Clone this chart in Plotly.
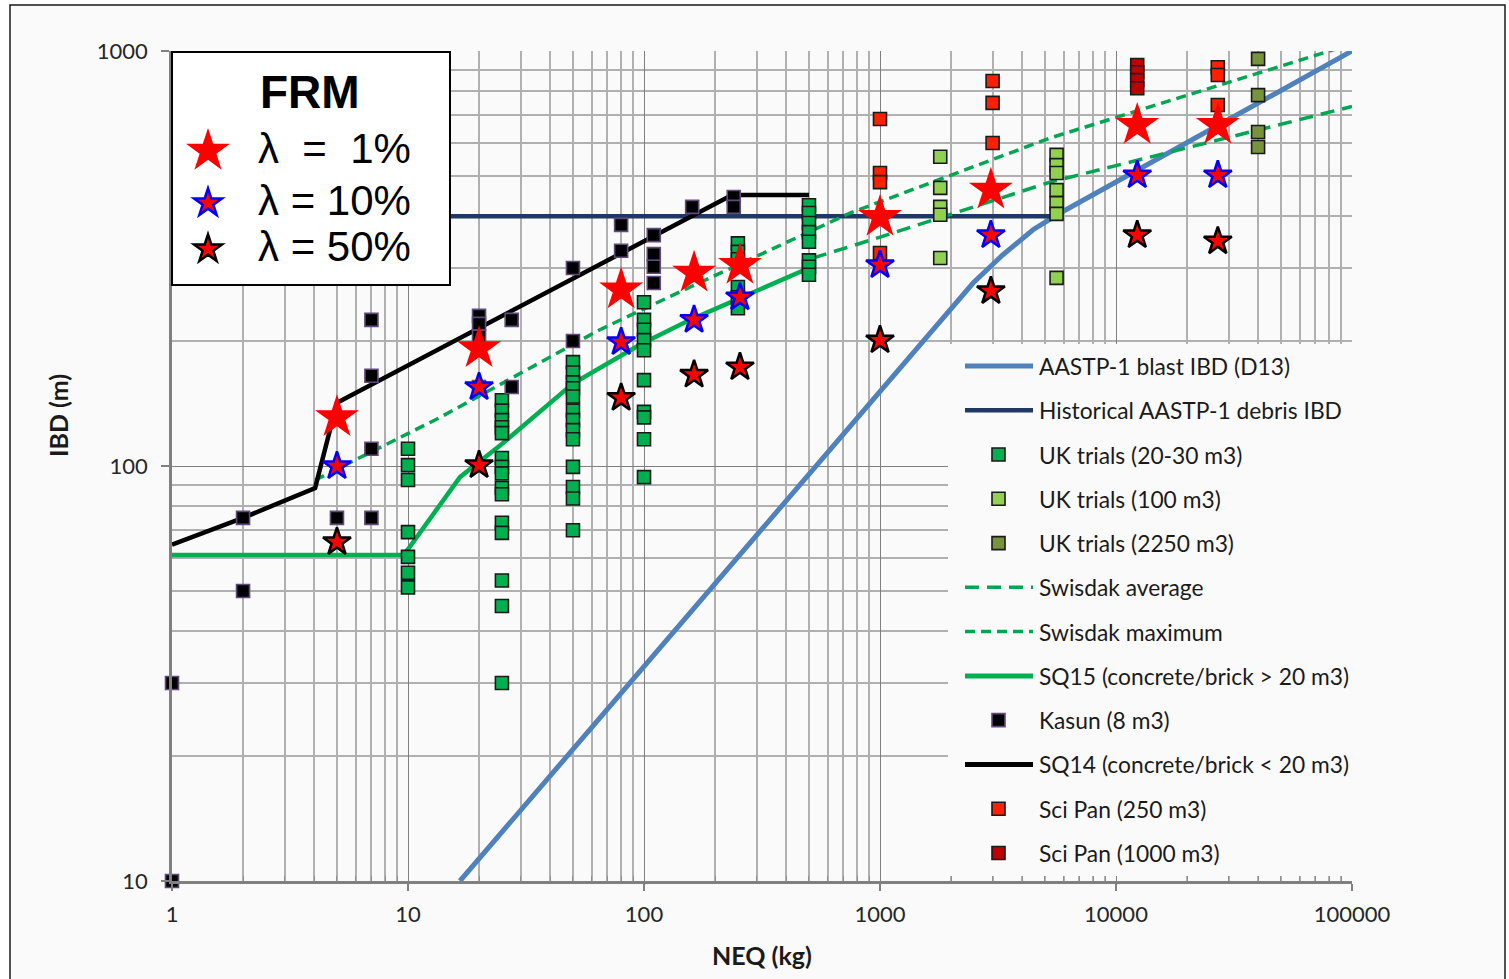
import plotly.graph_objects as go

# ---------------- data ----------------
neq_ticks = [1, 10, 100, 1000, 10000, 100000]
neq_tick_text = ["1", "10", "100", "1000", "10000", "100000"]
ibd_ticks = [10, 100, 1000]
ibd_tick_text = ["10", "100", "1000"]

aastp_blast_neq = [16.6, 2480, 3300, 4450, 5800, 100000]
aastp_blast_ibd = [10, 276, 322, 371, 407, 1000]

hist_debris_neq = [1, 5800]
hist_debris_ibd = [400, 400]

sq14_neq = [1, 2, 4.04, 5, 236, 500]
sq14_ibd = [64.6, 75, 88.5, 142, 450, 450]

sq15_neq = [1, 9.5, 10, 16.6, 18.8, 25, 50, 96, 157, 250, 500]
sq15_ibd = [61, 61, 63, 94, 99.5, 113, 158, 196, 225, 253, 300]

swisdak_max_neq = [4.04, 13.7, 65, 157, 746, 5250, 100000]
swisdak_max_ibd = [92.5, 131, 213, 270, 407, 617, 1040]

swisdak_avg_neq = [520, 1000, 5250, 100000]
swisdak_avg_ibd = [317, 356, 483, 735]

uk_small_neq = [10, 10, 10, 10, 10, 10, 10,
                25, 25, 25, 25, 25, 25, 25, 25, 25, 25, 25, 25, 25, 25, 25,
                50, 50, 50, 50, 50, 50, 50, 50, 50, 50, 50, 50, 50,
                100, 100, 100, 100, 100, 100, 100, 100, 100, 100,
                250, 250, 250, 250, 250, 250,
                500, 500, 500, 500, 500, 500, 500, 500]
uk_small_ibd = [110, 100.5, 92.5, 69.3, 60.4, 55.3, 51,
                144, 136, 129, 124, 120, 104.5, 99.5, 96, 88.5, 85.5, 73, 69, 53, 46, 30,
                178, 168, 159, 154, 147, 136, 129, 122, 116, 99.5, 89, 83.5, 70,
                248, 225, 213, 201, 190, 161, 135, 131, 116, 94,
                344, 328, 315, 270, 255, 240,
                425, 407, 385, 366, 347, 313, 302, 289]

uk_100_neq = [1800, 1800, 1800, 1800, 1800, 5600, 5600, 5600, 5600, 5600, 5600, 5600]
uk_100_ibd = [556, 468, 421, 403, 317, 562, 531, 508, 462, 430, 405, 284]

uk_2250_neq = [40000, 40000, 40000, 40000]
uk_2250_ibd = [957, 783, 638, 587]

kasun_neq = [1, 1, 2, 2, 5, 7, 7, 7, 7, 20, 20, 20, 20, 27.5, 27.5, 50, 50,
             80, 80, 110, 110, 110, 110, 160, 240, 240]
kasun_ibd = [30, 10, 75, 50, 75, 75, 110, 165, 225, 230, 220, 205, 155, 225, 155, 300, 200,
             381, 330, 360, 324, 302, 276, 421, 445, 421]

scipan_250_neq = [1000, 1000, 1000, 1000, 3000, 3000, 3000, 27000, 27000, 27000]
scipan_250_ibd = [686, 508, 483, 326, 847, 750, 600, 914, 875, 741]

scipan_1000_neq = [12300, 12300, 12300, 12300]
scipan_1000_ibd = [925, 889, 851, 813]

frm_neq = [5, 20, 80, 163, 255, 1000, 2950, 12300, 27000]
frm_ibd_1 = [131, 192, 266, 292, 305, 398, 463, 663, 663]
frm_ibd_10 = [100, 155, 199, 225, 255, 305, 360, 502, 502]
frm_ibd_50 = [65.6, 100.5, 146, 166, 173, 201, 264, 360, 348]

legend_labels = ["AASTP-1 blast IBD (D13)", "Historical AASTP-1 debris IBD",
                 "UK trials (20-30 m3)", "UK trials (100 m3)", "UK trials (2250 m3)",
                 "Swisdak average", "Swisdak maximum", "SQ15 (concrete/brick > 20 m3)",
                 "Kasun (8 m3)", "SQ14 (concrete/brick < 20 m3)",
                 "Sci Pan (250 m3)", "Sci Pan (1000 m3)"]
frm_labels = ["λ\u00a0\u00a0=\u00a0\u00a01%", "λ = 10%", "λ = 50%"]

# ---------------- styles ----------------
C_BLUE = "#4f81bd"
C_NAVY = "#1f3864"
C_GREEN = "#00b050"
C_DASH = "#00a651"
C_LGREEN = "#92d050"
C_OLIVE = "#77933c"
C_RED = "#ff2000"
C_DRED = "#c00000"
C_PURPLE = "#604a7b"
DASH_MAX = "10px,6px"
DASH_AVG = "14px,8px"
FONT = "Lato"

W, H = 1509, 979
ML, MR, MT, MB = 172, 157, 51, 98
PW, PH = W - ML - MR, H - MT - MB


def px(x):
    return (x - ML) / PW


def py(y):
    return (H - MB - y) / PH


fig = go.Figure()

line_specs = [
    (aastp_blast_neq, aastp_blast_ibd, dict(color=C_BLUE, width=5)),
    (hist_debris_neq, hist_debris_ibd, dict(color=C_NAVY, width=4.5)),
    (swisdak_max_neq, swisdak_max_ibd, dict(color=C_DASH, width=3.5, dash=DASH_MAX)),
    (swisdak_avg_neq, swisdak_avg_ibd, dict(color=C_DASH, width=3.5, dash=DASH_AVG)),
    (sq15_neq, sq15_ibd, dict(color=C_GREEN, width=4.5)),
    (sq14_neq, sq14_ibd, dict(color="black", width=4.5)),
]
for xs, ys, ln in line_specs:
    fig.add_trace(go.Scatter(x=xs, y=ys, mode="lines", line=ln, showlegend=False))

sq_specs = [
    (uk_small_neq, uk_small_ibd, C_GREEN, "#1a1a1a"),
    (uk_100_neq, uk_100_ibd, C_LGREEN, "#1a1a1a"),
    (uk_2250_neq, uk_2250_ibd, C_OLIVE, "#1a1a1a"),
    (kasun_neq, kasun_ibd, "black", C_PURPLE),
    (scipan_250_neq, scipan_250_ibd, C_RED, "#1a1a1a"),
    (scipan_1000_neq, scipan_1000_ibd, C_DRED, "#1a1a1a"),
]
for xs, ys, fc, lc in sq_specs:
    fig.add_trace(go.Scatter(x=xs, y=ys, mode="markers", cliponaxis=False,
                             marker=dict(symbol="square", size=13, color=fc,
                                         line=dict(color=lc, width=1.6)),
                             showlegend=False))

fig.add_trace(go.Scatter(x=frm_neq, y=frm_ibd_1, mode="markers", cliponaxis=False,
                         marker=dict(symbol="star", size=33, color="#ff0000", line=dict(width=0)),
                         showlegend=False))
fig.add_trace(go.Scatter(x=frm_neq, y=frm_ibd_10, mode="markers", cliponaxis=False,
                         marker=dict(symbol="star", size=21, color="#ff0000",
                                     line=dict(color="#0000ff", width=2.5)),
                         showlegend=False))
fig.add_trace(go.Scatter(x=frm_neq, y=frm_ibd_50, mode="markers", cliponaxis=False,
                         marker=dict(symbol="star", size=21, color="#ff0000",
                                     line=dict(color="black", width=2.5)),
                         showlegend=False))

# ---------------- decorations ----------------
shapes = []
annotations = []

# outer frame
shapes.append(dict(type="rect", xref="paper", yref="paper", layer="below",
                   x0=px(10), x1=px(1505), y0=py(1010), y1=py(5),
                   fillcolor="#fafafa", line=dict(color="#1a1a1a", width=1.5)))


def star_path(cx, cy, size):
    rs = size / 2 * 1.4
    pts = [(0.225, -0.309), (0.951, -0.309), (0.363, 0.118), (0.588, 0.809), (0, 0.382),
           (-0.588, 0.809), (-0.363, 0.118), (-0.951, -0.309), (-0.225, -0.309), (0, -1)]
    return "M " + " L ".join(f"{px(cx + rs * a):.5f},{py(cy + rs * b):.5f}" for a, b in pts) + " Z"


# FRM box
shapes.append(dict(type="rect", xref="paper", yref="paper", layer="above",
                   x0=px(172), x1=px(450), y0=py(285), y1=py(52),
                   fillcolor="white", line=dict(color="black", width=2)))
frm_glyphs = [(151, 33, "#ff0000", 0), (203, 21, "#0000ff", 2.5), (249, 21, "black", 2.5)]
for (cy, sz, lc, lw), lab in zip(frm_glyphs, frm_labels):
    shapes.append(dict(type="path", xref="paper", yref="paper", layer="above",
                       path=star_path(208, cy, sz), fillcolor="#ff0000",
                       line=dict(color=lc, width=lw)))
    annotations.append(dict(text=lab, x=px(256), y=py(cy - 3), xref="paper", yref="paper",
                            xanchor="left", yanchor="middle", showarrow=False,
                            font=dict(family="Liberation Sans", size=42, color="black")))
annotations.append(dict(text="<b>FRM</b>", x=px(310), y=py(92), xref="paper", yref="paper",
                        xanchor="center", yanchor="middle", showarrow=False,
                        font=dict(family="Liberation Sans", size=46, color="black")))

# main legend
shapes.append(dict(type="rect", xref="paper", yref="paper", layer="above",
                   x0=px(948), x1=px(1385), y0=py(876), y1=py(344),
                   fillcolor="#fafafa", line=dict(width=0)))
leg_kinds = [("line", dict(color=C_BLUE, width=5)),
             ("line", dict(color=C_NAVY, width=4.5)),
             ("sq", (C_GREEN, "#1a1a1a")),
             ("sq", (C_LGREEN, "#1a1a1a")),
             ("sq", (C_OLIVE, "#1a1a1a")),
             ("line", dict(color=C_DASH, width=3.5, dash=DASH_AVG)),
             ("line", dict(color=C_DASH, width=3.5, dash=DASH_MAX)),
             ("line", dict(color=C_GREEN, width=5)),
             ("sq", ("black", C_PURPLE)),
             ("line", dict(color="black", width=5)),
             ("sq", (C_RED, "#1a1a1a")),
             ("sq", (C_DRED, "#1a1a1a"))]
for i, ((kind, st), lab) in enumerate(zip(leg_kinds, legend_labels)):
    yc = 366 + i * 44.27
    if kind == "line":
        shapes.append(dict(type="line", xref="paper", yref="paper", layer="above",
                           x0=px(965), x1=px(1033), y0=py(yc), y1=py(yc), line=st))
    else:
        shapes.append(dict(type="rect", xref="paper", yref="paper", layer="above",
                           x0=px(992), x1=px(1005), y0=py(yc + 6.5), y1=py(yc - 6.5),
                           fillcolor=st[0], line=dict(color=st[1], width=1.6)))
    annotations.append(dict(text=lab, x=px(1037), y=py(yc), xref="paper", yref="paper",
                            xanchor="left", yanchor="middle", showarrow=False,
                            font=dict(family=FONT, size=22.8, color="#1a1a1a")))

# axis titles
annotations.append(dict(text="<b>IBD (m)</b>", x=px(58), y=py(416), xref="paper", yref="paper",
                        xanchor="center", yanchor="middle",
                        textangle=-90, showarrow=False,
                        font=dict(family=FONT, size=25, color="#1a1a1a")))
annotations.append(dict(text="<b>NEQ (kg)</b>", x=px(762), y=py(955), xref="paper", yref="paper",
                        xanchor="center", yanchor="middle",
                        showarrow=False, font=dict(family=FONT, size=25, color="#1a1a1a")))

x_minor = [m * 10 ** e for e in range(5) for m in range(2, 10)]
y_minor = [m * 10 ** e for e in range(1, 3) for m in range(2, 10)]

fig.update_layout(
    width=W, height=H,
    margin=dict(l=ML, r=MR, t=MT, b=MB, pad=0),
    paper_bgcolor="white", plot_bgcolor="#fafafa",
    font=dict(family=FONT, size=22, color="#262626"),
    shapes=shapes, annotations=annotations, showlegend=False,
    xaxis=dict(type="log", range=[0, 5], tickvals=neq_ticks, ticktext=neq_tick_text,
               ticks="outside", ticklen=7, tickwidth=1.5, tickcolor="#808080",
               ticklabelstandoff=5,
               showline=True, linecolor="#808080", linewidth=2.5,
               showgrid=True, gridcolor="#7f7f7f", gridwidth=1, zeroline=False,
               minor=dict(tickvals=x_minor, ticks="inside", ticklen=5, tickcolor="#909090",
                          tickwidth=1, showgrid=True, gridcolor="#b0b0b0", gridwidth=1.5),
               tickfont=dict(family=FONT, size=22, color="#262626")),
    yaxis=dict(type="log", range=[1, 3], tickvals=ibd_ticks, ticktext=ibd_tick_text,
               ticks="outside", ticklen=8, tickwidth=1.5, tickcolor="#808080",
               ticklabelstandoff=9,
               showline=True, linecolor="#808080", linewidth=2.5,
               showgrid=True, gridcolor="#7f7f7f", gridwidth=1, zeroline=False,
               minor=dict(tickvals=y_minor, ticks="", showgrid=True,
                          gridcolor="#b0b0b0", gridwidth=1.5),
               tickfont=dict(family=FONT, size=22, color="#262626")),
)

fig.write_html("out.html")
